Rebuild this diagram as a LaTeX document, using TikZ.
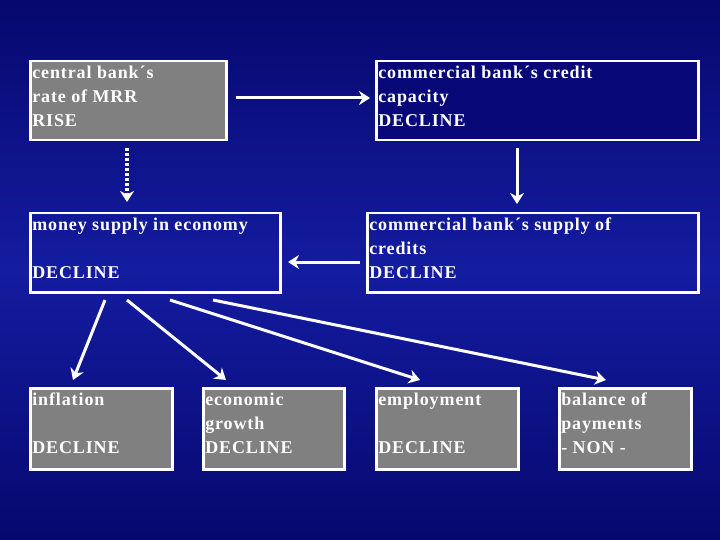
\documentclass[tikz,border=0pt]{standalone}
\usepackage{fontspec}
\setmainfont[LetterSpace=5]{Liberation Serif}
\usetikzlibrary{arrows.meta}
\definecolor{bgA}{RGB}{6,8,110}
\definecolor{bgB}{RGB}{20,28,160}
\definecolor{boxgrey}{RGB}{128,128,128}
\definecolor{navyfill}{RGB}{8,8,120}
\newcommand{\bx}[3]{\parbox[c][#2pt][t]{#1pt}{\raggedright\fontsize{18}{24}\selectfont\vspace*{5pt}\hspace*{2pt}\parbox[t]{\dimexpr#1pt-4pt}{\raggedright #3}}}
\tikzset{
  box/.style={draw=white, line width=2.5pt, inner sep=0pt, anchor=north west, text=white, font=\bfseries},
  gbox/.style={box, fill=boxgrey},
  nbox/.style={box, fill=navyfill},
  arr/.style={draw=white, line width=3pt, -{Stealth[length=11pt,width=14pt]}},
}
\begin{document}
\begin{tikzpicture}[x=1pt,y=-1pt]
\useasboundingbox (0,0) rectangle (720,540);
\shade[top color=bgA, bottom color=bgA, middle color=bgB] (0,0) rectangle (720,540);
\node[gbox] (A) at (29,60) {\bx{196}{79}{central bank´s\\rate of MRR\\RISE}};
\node[nbox] (B) at (375,60) {\bx{322}{79}{commercial bank´s credit\\capacity\\DECLINE}};
\node[box] (C) at (29,212) {\bx{250}{79}{money supply in economy\\[24pt]DECLINE}};
\node[box] (D) at (366,212) {\bx{331}{79}{commercial bank´s supply of\\credits\\DECLINE}};
\node[gbox] (E) at (29,387) {\bx{142}{81}{inflation\\[24pt]DECLINE}};
\node[gbox] (F) at (202,387) {\bx{141}{81}{economic\\growth\\DECLINE}};
\node[gbox] (G) at (375,387) {\bx{142}{81}{employment\\[24pt]DECLINE}};
\node[gbox] (H) at (558,387) {\bx{132}{81}{balance of\\payments\\- NON -}};
\coordinate (a1) at (236,98); \coordinate (a2) at (370,98);
\draw[arr] (a1) -- (a2);
\coordinate (d1) at (127,148); \coordinate (d2) at (127,202);
\draw[arr, dotted, line width=4pt] (d1) -- (d2);
\coordinate (b1) at (517,148); \coordinate (b2) at (517,204);
\draw[arr] (b1) -- (b2);
\coordinate (c1) at (360,262); \coordinate (c2) at (288,262);
\draw[arr] (c1) -- (c2);
\coordinate (f0) at (105,300); \coordinate (f1) at (73,380);
\coordinate (g0) at (127,300); \coordinate (g1) at (226,380);
\coordinate (h0) at (170,300); \coordinate (h1) at (420,380);
\coordinate (i0) at (213,300); \coordinate (i1) at (606,380);
\draw[arr] (f0) -- (f1);
\draw[arr] (g0) -- (g1);
\draw[arr] (h0) -- (h1);
\draw[arr] (i0) -- (i1);
\end{tikzpicture}
\end{document}
